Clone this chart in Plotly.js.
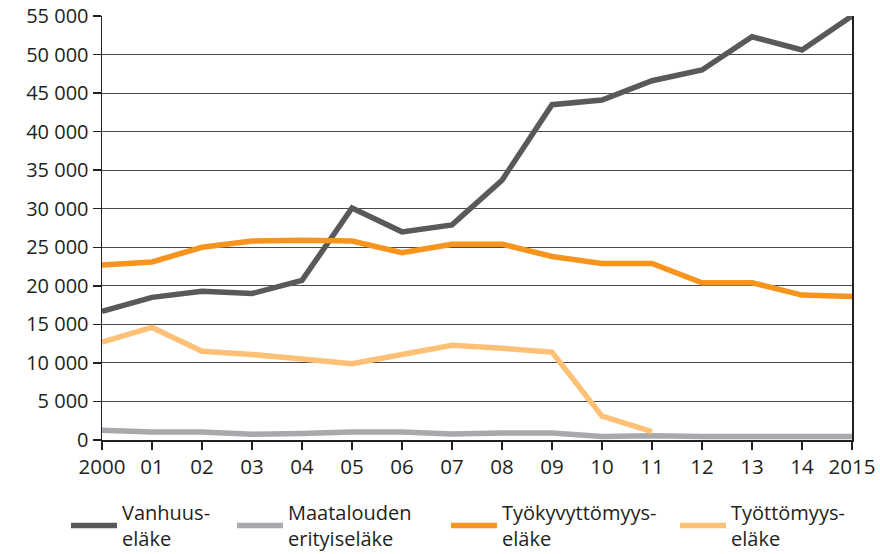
<!DOCTYPE html>
<html>
<head>
<meta charset="utf-8">
<script src="https://cdn.plot.ly/plotly-3.0.1.min.js"></script>
<style>html,body{margin:0;padding:0;background:#fff;}#chart{width:880px;height:554px;}</style>
</head>
<body>
<div id="chart"></div>
<script>
const years = [2000,2001,2002,2003,2004,2005,2006,2007,2008,2009,2010,2011,2012,2013,2014,2015];
const yearLabels = ["2000","01","02","03","04","05","06","07","08","09","10","11","12","13","14","2015"];
const vanhuus = [16700,18500,19300,19000,20700,30100,27000,27900,33700,43500,44100,46600,48000,52300,50600,55000];
const maatalous = [1250,1050,1050,750,850,1050,1050,780,900,900,450,550,450,450,550,450];
const tyokyvyttomyys = [22700,23100,25000,25800,25900,25800,24300,25400,25400,23800,22900,22900,20400,20400,18800,18600];
const tyottomyys = [12700,14600,11500,11100,10500,9900,11100,12300,11900,11400,3100,1100,null,null,null,null];
const names = ["Vanhuus-<br>eläke","Maatalouden<br>erityiseläke","Työkyvyttömyys-<br>eläke","Työttömyys-<br>eläke"];
const colors = ["#58595B","#A7A9AC","#F7941D","#FDC077"];
const series = [vanhuus, maatalous, tyokyvyttomyys, tyottomyys];
const yTicks = [0,5000,10000,15000,20000,25000,30000,35000,40000,45000,50000,55000];
const yTickText = ["0","5 000","10 000","15 000","20 000","25 000","30 000","35 000","40 000","45 000","50 000","55 000"];

const legendIds = ["legend","legend2","legend3","legend4"];
const legendX = [66, 232, 446, 675];

const traces = series.map((s,i)=>({
  x: years, y: s, name: names[i], type: 'scatter', mode: 'lines',
  line: {color: colors[i], width: 5.5},
  connectgaps: false, legend: legendIds[i]
}));

const font = {family: "Open Sans, sans-serif", color: "#231F20", size: 20};
const layout = {
  width: 880, height: 554,
  margin: {l: 102, r: 28, t: 16, b: 114},
  paper_bgcolor: "#fff", plot_bgcolor: "#fff",
  font: font,
  showlegend: true,
  xaxis: {
    range: [2000, 2015], tickvals: years, ticktext: yearLabels,
    showgrid: false, zeroline: false, showline: true, linecolor: "#231F20", linewidth: 1.5,
    ticks: "outside", ticklen: 8, tickcolor: "#231F20", tickwidth: 1.5,
    tickfont: {size: 20.5}, mirror: false, fixedrange: true
  },
  yaxis: {
    range: [0, 55000], tickvals: yTicks, ticktext: yTickText,
    showgrid: true, gridcolor: "#4a4a4a", gridwidth: 1, zeroline: false,
    showline: true, linecolor: "#231F20", linewidth: 1.5, mirror: true,
    ticks: "outside", ticklen: 8, tickcolor: "#231F20", tickwidth: 1.5,
    tickfont: {size: 20}, fixedrange: true
  }
};
legendIds.forEach((id,i)=>{
  layout[id] = {
    orientation: "h", xref: "container", yref: "container",
    x: legendX[i]/880, y: 1 - 493/554, xanchor: "left", yanchor: "top",
    font: {size: 20}, itemwidth: 46, bgcolor: "rgba(0,0,0,0)"
  };
});
Plotly.newPlot("chart", traces, layout, {staticPlot: true, displayModeBar: false});
</script>
</body>
</html>
